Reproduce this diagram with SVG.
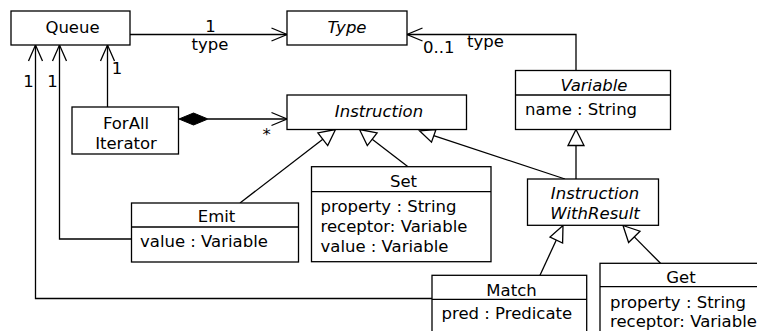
<svg xmlns="http://www.w3.org/2000/svg" width="757" height="331" viewBox="0 0 757 331">
<style>
.box{fill:#fff;stroke:#000;stroke-width:1.3}
.ln{fill:none;stroke:#000;stroke-width:1.3}
.tri{fill:#fff;stroke:#000;stroke-width:1.3}
text{font-family:"DejaVu Sans","Liberation Sans",sans-serif;font-size:16.5px;fill:#000}
.c{text-anchor:middle}
.i{font-style:italic}
</style>
<rect width="757" height="331" fill="#fff"/>
<g id="connectors">
  <!-- Queue -> Type -->
  <path class="ln" d="M130,34.5 H287"/>
  <path class="ln" d="M271.5,28 L287,34.5 L271.5,41"/>
  <text class="c" x="210.5" y="31.5">1</text>
  <text class="c" x="210" y="50">type</text>
  <!-- Variable -> Type -->
  <path class="ln" d="M576,70.5 V34.5 H407"/>
  <path class="ln" d="M422.5,28 L407,34.5 L422.5,41"/>
  <text x="423" y="53">0..1</text>
  <text x="467" y="46.5">type</text>
  <!-- ForAll -> Queue -->
  <path class="ln" d="M107.5,107 V45"/>
  <path class="ln" d="M100.5,61 L107.5,45 L114.5,61"/>
  <text class="c" x="117" y="73.5">1</text>
  <!-- Emit -> Queue -->
  <path class="ln" d="M131.5,239 H59.5 V45"/>
  <path class="ln" d="M52.5,61 L59.5,45 L66.5,61"/>
  <text class="c" x="52.5" y="87">1</text>
  <!-- Match -> Queue -->
  <path class="ln" d="M432,298.5 H35.5 V45"/>
  <path class="ln" d="M28.5,61 L35.5,45 L42.5,61"/>
  <text class="c" x="28.5" y="87">1</text>
  <!-- ForAll composition Instruction -->
  <path class="ln" d="M208,119 H287"/>
  <path d="M179,119 L193.5,113 L208,119 L193.5,125 Z" fill="#000" stroke="#000" stroke-width="1"/>
  <path class="ln" d="M271.5,112.5 L287,119 L271.5,125.5"/>
  <text class="c" x="266.5" y="140">*</text>
  <!-- Emit -> Instruction -->
  <path class="ln" d="M240,203 L322.8,139.3"/>
  <path class="tri" d="M335.5,129.5 L327.7,145.6 L317.9,132.9 Z"/>
  <!-- Set -> Instruction -->
  <path class="ln" d="M408,166.7 L372.2,139.2"/>
  <path class="tri" d="M359.5,129.5 L377.1,132.9 L367.3,145.6 Z"/>
  <!-- IWR -> Instruction -->
  <path class="ln" d="M565,179 L433.7,135.6"/>
  <path class="tri" d="M419.5,130.8 L436,129.5 L431.5,142.2 Z"/>
  <!-- IWR -> Variable -->
  <path class="ln" d="M576,179 V145.5"/>
  <path class="tri" d="M576,129.5 L584,145.5 L568,145.5 Z"/>
  <!-- Match -> IWR -->
  <path class="ln" d="M540,275.3 L556.3,240"/>
  <path class="tri" d="M563,225.5 L562.6,243 L550,237 Z"/>
  <!-- Get -> IWR -->
  <path class="ln" d="M660.5,263.3 L634.3,236.9"/>
  <path class="tri" d="M623,225.5 L640,231.2 L628.6,242.5 Z"/>
</g>
<g id="Queue">
  <rect class="box" x="11" y="11" width="119" height="34"/>
  <text class="c" x="72.5" y="32.5">Queue</text>
</g>
<g id="Type">
  <rect class="box" x="287" y="11" width="120" height="34"/>
  <text class="c i" x="347" y="32.5">Type</text>
</g>
<g id="Variable">
  <rect class="box" x="515.5" y="70.5" width="155" height="59"/>
  <line class="ln" x1="515.5" y1="95" x2="670.5" y2="95"/>
  <text class="c i" x="594" y="90.5">Variable</text>
  <text x="525" y="115">name : String</text>
</g>
<g id="ForAllIterator">
  <rect class="box" x="72" y="107" width="106.5" height="47"/>
  <text class="c" x="126" y="128.5">ForAll</text>
  <text class="c" x="126" y="148.5">Iterator</text>
</g>
<g id="Instruction">
  <rect class="box" x="287" y="95" width="179.5" height="34.5"/>
  <text class="c i" x="379" y="116.5">Instruction</text>
</g>
<g id="Emit">
  <rect class="box" x="131.5" y="203" width="167" height="59"/>
  <line class="ln" x1="131.5" y1="227" x2="298.5" y2="227"/>
  <text class="c" x="216.5" y="222">Emit</text>
  <text x="140" y="247">value : Variable</text>
</g>
<g id="Set">
  <rect class="box" x="311.5" y="166.7" width="179.5" height="95"/>
  <line class="ln" x1="311.5" y1="191.7" x2="491" y2="191.7"/>
  <text class="c" x="403.5" y="186.5">Set</text>
  <text x="320.5" y="212.3">property : String</text>
  <text x="320.5" y="232">receptor: Variable</text>
  <text x="320.5" y="251.7">value : Variable</text>
</g>
<g id="InstructionWithResult">
  <rect class="box" x="527.5" y="179" width="131" height="46.3"/>
  <text class="c i" x="595" y="199.3">Instruction</text>
  <text class="c i" x="595" y="219.3">WithResult</text>
</g>
<g id="Match">
  <rect class="box" x="432" y="275.3" width="154.7" height="70"/>
  <line class="ln" x1="432" y1="299.3" x2="586.7" y2="299.3"/>
  <text class="c" x="511.5" y="295.5">Match</text>
  <text x="441.5" y="318.5">pred : Predicate</text>
</g>
<g id="Get">
  <rect class="box" x="600" y="263.3" width="170" height="80"/>
  <line class="ln" x1="600" y1="286.7" x2="770" y2="286.7"/>
  <text class="c" x="681" y="283">Get</text>
  <text x="610" y="307.5">property : String</text>
  <text x="610" y="327">receptor: Variable</text>
</g>
</svg>
